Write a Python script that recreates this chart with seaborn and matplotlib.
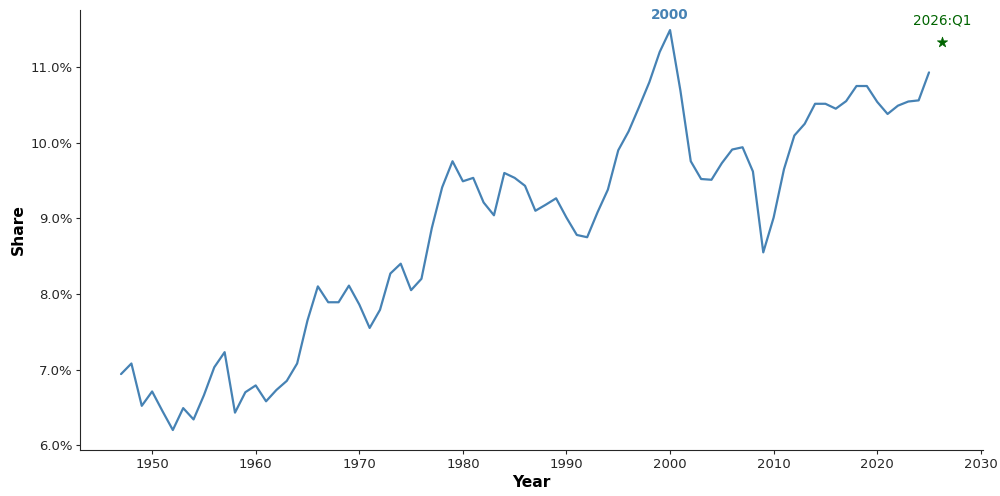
import numpy as np
import pandas as pd
import matplotlib
matplotlib.use("Agg")
import matplotlib.pyplot as plt
import seaborn as sns
from matplotlib.ticker import FuncFormatter

years = list(range(1947, 2026))
share = [
    6.94, 7.08, 6.52, 6.71, 6.45, 6.20, 6.49, 6.34, 6.66, 7.03,
    7.23, 6.43, 6.70, 6.79, 6.58, 6.73, 6.85, 7.08, 7.65, 8.10,
    7.89, 7.89, 8.11, 7.86, 7.55, 7.79, 8.27, 8.40, 8.05, 8.20,
    8.87, 9.41, 9.755, 9.49, 9.535, 9.21, 9.04, 9.60, 9.535, 9.43,
    9.10, 9.18, 9.265, 9.01, 8.78, 8.75, 9.08, 9.38, 9.90, 10.15,
    10.47, 10.80, 11.20, 11.49, 10.69, 9.755, 9.52, 9.51, 9.73, 9.91,
    9.94, 9.62, 8.55, 9.01, 9.65, 10.095, 10.25, 10.515, 10.515, 10.45,
    10.55, 10.75, 10.75, 10.54, 10.38, 10.49, 10.545, 10.56, 10.93,
]
peak_label = "2000"
latest_x = [2026.25]
latest_y = [11.33]
latest_label = "2026:Q1"

df = pd.DataFrame({"Year": years, "Share": share})
df_latest = pd.DataFrame({"Year": latest_x, "Share": latest_y})

sns.set_style("ticks")
plt.rcParams["font.family"] = ["DejaVu Sans"]

fig = plt.figure(figsize=(10, 4.96), dpi=100)
ax = fig.add_axes([0.08, 0.0927, 0.903, 0.887])

sns.lineplot(data=df, x="Year", y="Share", ax=ax, color="#4682b4", linewidth=1.6)
sns.scatterplot(data=df_latest, x="Year", y="Share", ax=ax, color="darkgreen",
                marker="*", s=60, edgecolor="darkgreen", linewidth=0.5, zorder=5)

ipk = int(np.argmax(share))
ax.annotate(peak_label, xy=(years[ipk], share[ipk]), xytext=(0, 5.5),
            textcoords="offset points", ha="center", va="bottom",
            color="#4682b4", fontweight="bold", fontsize=9.8)
ax.annotate(latest_label, xy=(latest_x[0], latest_y[0]), xytext=(0, 10.5),
            textcoords="offset points", ha="center", va="bottom",
            color="darkgreen", fontsize=9.8)

ax.yaxis.set_major_formatter(FuncFormatter(lambda v, p: f"{v:.1f}%"))
ax.set_xticks([1950, 1960, 1970, 1980, 1990, 2000, 2010, 2020, 2030])
ax.set_xlabel("Year", fontsize=11.2, fontweight="bold", labelpad=3, color="black")
ax.set_ylabel("Share", fontsize=11.2, fontweight="bold", labelpad=3.5, color="black")
ax.tick_params(labelsize=9.5, length=3, width=0.8, pad=2.5)
sns.despine(ax=ax)

fig.savefig("out.png", dpi=100)
